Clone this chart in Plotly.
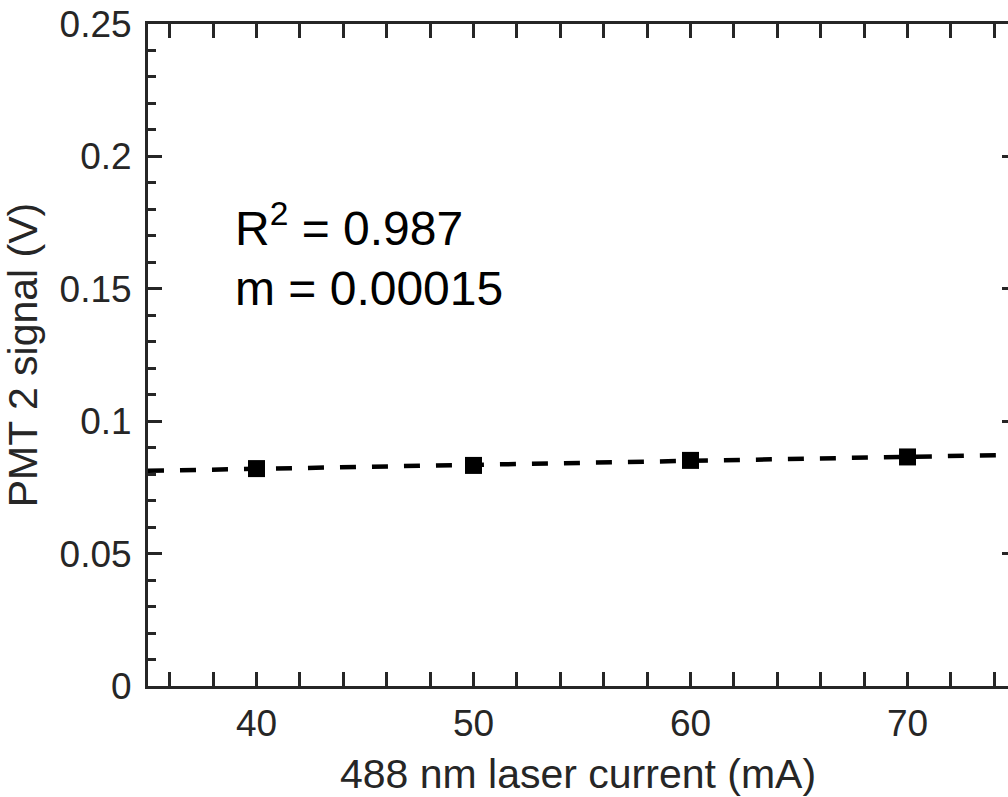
import numpy as np
import plotly.graph_objects as go

# Data
current_mA = [40, 50, 60, 70]
pmt2_signal_V = [0.0821, 0.0833, 0.0852, 0.0865]
x_tick_vals = [40, 50, 60, 70]
x_tick_text = ["40", "50", "60", "70"]
y_tick_vals = [0, 0.05, 0.1, 0.15, 0.2, 0.25]
y_tick_text = ["0", "0.05", "0.1", "0.15", "0.2", "0.25"]
x_range = [35, 74.63]   # axis runs 35..75, right edge is cut by the frame
y_range = [0, 0.25]
r_squared_text = "0.987"
slope_text = "0.00015"

# Linear fit of the data
coef = np.polyfit(current_mA, pmt2_signal_V, 1)
fit_x = np.array([35.0, 75.0])
fit_y = np.polyval(coef, fit_x)

AX = "#262626"
FONT = "Liberation Sans, Arial, Helvetica, sans-serif"

fig = go.Figure()
fig.add_trace(go.Scatter(
    x=fit_x, y=fit_y, mode="lines",
    line=dict(color="black", width=4.5, dash="16px,16px"),
    showlegend=False, hoverinfo="skip",
))
fig.add_trace(go.Scatter(
    x=current_mA, y=pmt2_signal_V, mode="markers",
    marker=dict(symbol="square", size=17, color="black", line=dict(width=0)),
    showlegend=False,
))
# invisible trace so the right-side tick stubs axis is drawn
fig.add_trace(go.Scatter(
    x=current_mA[:1], y=pmt2_signal_V[:1], yaxis="y2", mode="markers",
    marker=dict(opacity=0), showlegend=False, hoverinfo="skip",
))

tickfont = dict(family=FONT, size=37, color=AX)
titlefont = dict(family=FONT, size=41, color=AX)

fig.update_layout(
    xaxis=dict(
        range=x_range, tickmode="array", tickvals=x_tick_vals, ticktext=x_tick_text,
        showline=True, linecolor=AX, linewidth=3, mirror="allticks",
        ticks="inside", ticklen=14, tickwidth=3, tickcolor=AX,
        minor=dict(ticks="inside", ticklen=8, tickwidth=3, tickcolor=AX, dtick=2, tick0=0, showgrid=False),
        showgrid=False, zeroline=False, tickfont=tickfont, ticklabelstandoff=3,
        title=dict(text="488 nm laser current (mA)", font=titlefont, standoff=16),
    ),
    yaxis=dict(
        range=y_range, tickmode="array", tickvals=y_tick_vals, ticktext=y_tick_text,
        showline=True, linecolor=AX, linewidth=3, mirror=False,
        ticks="inside", ticklen=14, tickwidth=3, tickcolor=AX,
        minor=dict(ticks="inside", ticklen=8, tickwidth=3, tickcolor=AX, dtick=0.01, tick0=0, showgrid=False),
        showgrid=False, zeroline=False, tickfont=tickfont, ticklabelstandoff=6,
        title=dict(text="PMT 2 signal (V)", font=titlefont, standoff=14),
    ),
    yaxis2=dict(
        range=y_range, overlaying="y", side="right", anchor="x",
        tickmode="array", tickvals=y_tick_vals, showticklabels=False,
        ticks="inside", ticklen=6, tickwidth=3, tickcolor=AX,
        showline=False, showgrid=False, zeroline=False,
    ),
    width=1008, height=797,
    margin=dict(l=148, r=0, t=24, b=111),
    paper_bgcolor="white", plot_bgcolor="white",
    font=dict(family=FONT, color=AX),
)

fig.add_annotation(
    x=38.9, y=0.1741, xref="x", yref="y", xanchor="left", yanchor="middle",
    text="R<sup>2</sup> = " + r_squared_text, showarrow=False,
    font=dict(family=FONT, size=48, color="black"),
)
fig.add_annotation(
    x=38.9, y=0.1500, xref="x", yref="y", xanchor="left", yanchor="middle",
    text="m = " + slope_text, showarrow=False,
    font=dict(family=FONT, size=48, color="black"),
)

fig.write_html("out.html")
